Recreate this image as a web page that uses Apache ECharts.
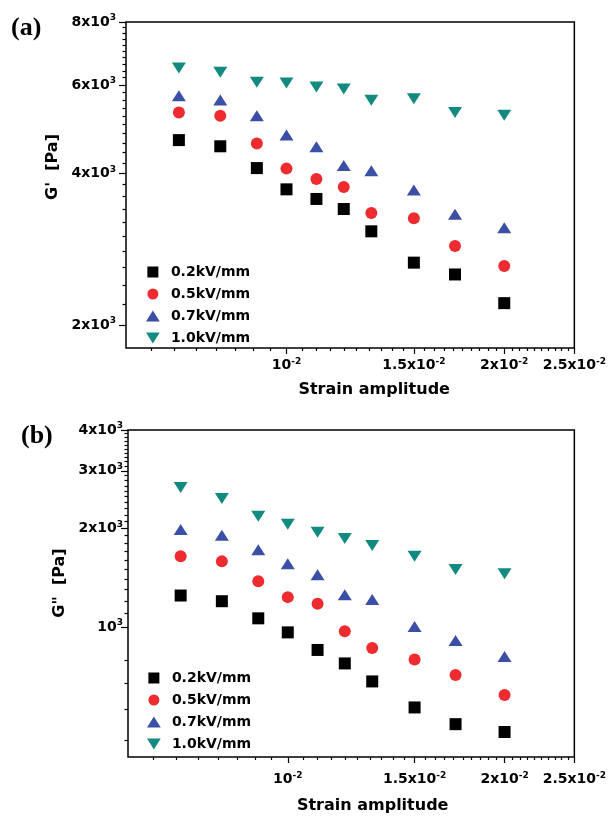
<!DOCTYPE html>
<html>
<head>
<meta charset="utf-8">
<title>G' and G'' vs strain amplitude</title>
<script src="https://cdn.jsdelivr.net/npm/echarts@6/dist/echarts.min.js"></script>
<style>
  html, body { margin: 0; padding: 0; background: #fff; }
  #chart { width: 609px; height: 816px; }
</style>
</head>
<body>
<div id="chart"></div>
<script>
// strain amplitude, same for both panels
const strain = [0.0071, 0.0081, 0.0091, 0.01, 0.011, 0.012, 0.0131, 0.015, 0.0171, 0.02];
const fieldNames = ['0.2kV/mm', '0.5kV/mm', '0.7kV/mm', '1.0kV/mm'];

// (a) storage modulus G' [Pa]
const storage02 = [4660, 4530, 4100, 3720, 3560, 3400, 3070, 2660, 2520, 2210];
const storage05 = [5290, 5210, 4590, 4090, 3900, 3760, 3340, 3260, 2870, 2620];
const storage07 = [5710, 5600, 5210, 4770, 4520, 4150, 4050, 3710, 3320, 3120];
const storage10 = [6480, 6360, 6070, 6050, 5940, 5890, 5590, 5630, 5290, 5220];

// (b) loss modulus G'' [Pa]
const loss02 = [1247, 1198, 1062, 962, 850, 773, 681, 567, 504, 477];
const loss05 = [1643, 1586, 1380, 1233, 1176, 969, 862, 795, 712, 619];
const loss07 = [1984, 1905, 1722, 1561, 1444, 1254, 1212, 1002, 908, 811];
const loss10 = [2669, 2469, 2180, 2060, 1946, 1862, 1775, 1643, 1498, 1454];

// tick labels
const xTicks = [0.01, 0.015, 0.02, 0.025];
const xTickLabels = ['10^-2', '1.5x10^-2', '2x10^-2', '2.5x10^-2'];
const yTicksA = [2000, 4000, 6000, 8000];
const yTickLabelsA = ['2x10^3', '4x10^3', '6x10^3', '8x10^3'];
const yTicksB = [1000, 2000, 3000, 4000];
const yTickLabelsB = ['10^3', '2x10^3', '3x10^3', '4x10^3'];

// minor ticks
const xMinor = [];
for (let k = 13; k < 50; k++) if (k % 10) xMinor.push(k * 0.0005);
const yMinorA = [];
for (let v = 2200; v < 8000; v += 200) if (v % 2000) yMinorA.push(v);
const yMinorB = [450, 560, 670, 790];
for (let v = 1100; v < 4000; v += 100) if (v % 1000) yMinorB.push(v);

const lg = Math.log10;
const colors = ['#000000', '#ee2b2f', '#3a4fa5', '#138a80'];
const square = 'path://M0,0H10V10H0Z';
const upTri = 'path://M5,0L10,8L0,8Z';
const downTri = 'path://M0,0L10,0L5,8Z';
const symbols = ['rect', 'circle', upTri, downTri];
const legendIcons = [square, 'circle', upTri, downTri];
const symbolSizes = [12, 12, [14, 11], [14, 11]];

const font = 'DejaVu Sans';
const rich = {
  m: {fontFamily: font, fontWeight: 'bold', fontSize: 14, color: '#000', lineHeight: 17},
  s: {fontFamily: font, fontWeight: 'bold', fontSize: 9, color: '#000', verticalAlign: 'top'}
};
function richLabel(s) {
  const p = s.split('^');
  return '{m|' + p[0] + '}{s|' + p[1] + '}';
}
function labelFor(ticks, labels) {
  return v => {
    const i = ticks.findIndex(t => Math.abs(lg(t) - v) < 1e-6);
    return i < 0 ? '' : richLabel(labels[i]);
  };
}

const panels = [
  {
    grid: {left: 126, top: 22, width: 453, height: 326},
    yMin: 1800, yMax: 8000, yTicks: yTicksA, yLabels: yTickLabelsA, yMinor: yMinorA,
    data: [storage02, storage05, storage07, storage10], yName: "G'  [Pa]",
    yNameGap: 62, yNamePad: 36, yLabelMargin: 10, xLabelMargin: 9, xNameGap: 34, xNamePad: 48,
    legendLeft: 146, legendTop: 265
  },
  {
    grid: {left: 128, top: 430, width: 451, height: 327},
    yMin: 400, yMax: 4000, yTicks: yTicksB, yLabels: yTickLabelsB, yMinor: yMinorB,
    data: [loss02, loss05, loss07, loss10], yName: 'G"  [Pa]',
    yNameGap: 53, yNamePad: 21, yLabelMargin: 5, xLabelMargin: 14, xNameGap: 41, xNamePad: 43,
    legendLeft: 147, legendTop: 671
  }
];

const xMin = 0.006, xMax = 0.025;
const tickLine = {color: '#000', width: 1.2};
const nameStyle = {fontFamily: font, fontWeight: 'bold', fontSize: 16, color: '#000'};

const grids = [], xAxes = [], yAxes = [], series = [], legends = [];

panels.forEach((p, i) => {
  grids.push(Object.assign({show: true, borderColor: '#000', borderWidth: 1.5, backgroundColor: '#fff'}, p.grid));
  const base = i * 3;

  // log axes that carry the data
  xAxes.push({
    type: 'log', logBase: 10, gridIndex: i, position: 'bottom', min: xMin, max: xMax,
    axisLine: {show: false}, axisTick: {show: false}, axisLabel: {show: false}, splitLine: {show: false}
  });
  // major ticks and labels, placed in log10 space
  xAxes.push({
    type: 'value', gridIndex: i, position: 'bottom', min: lg(xMin), max: lg(xMax),
    axisLine: {show: false}, splitLine: {show: false},
    axisTick: {show: true, length: 6, customValues: xTicks.map(lg), lineStyle: tickLine},
    axisLabel: {customValues: xTicks.map(lg), formatter: labelFor(xTicks, xTickLabels), rich: rich, margin: p.xLabelMargin},
    name: 'Strain amplitude', nameLocation: 'middle', nameGap: p.xNameGap,
    nameTextStyle: Object.assign({padding: [0, 0, 0, p.xNamePad]}, nameStyle)
  });
  // minor ticks
  xAxes.push({
    type: 'value', gridIndex: i, position: 'bottom', min: lg(xMin), max: lg(xMax),
    axisLine: {show: false}, splitLine: {show: false}, axisLabel: {show: false},
    axisTick: {show: true, length: 3, customValues: xMinor.map(lg), lineStyle: tickLine}
  });

  yAxes.push({
    type: 'log', logBase: 10, gridIndex: i, position: 'left', min: p.yMin, max: p.yMax,
    axisLine: {show: false}, axisTick: {show: false}, axisLabel: {show: false}, splitLine: {show: false}
  });
  yAxes.push({
    type: 'value', gridIndex: i, position: 'left', min: lg(p.yMin), max: lg(p.yMax),
    axisLine: {show: false}, splitLine: {show: false},
    axisTick: {show: true, length: 7, customValues: p.yTicks.map(lg), lineStyle: tickLine},
    axisLabel: {customValues: p.yTicks.map(lg), formatter: labelFor(p.yTicks, p.yLabels), rich: rich, margin: p.yLabelMargin},
    name: p.yName, nameLocation: 'middle', nameGap: p.yNameGap,
    nameTextStyle: Object.assign({padding: [0, 0, 0, p.yNamePad]}, nameStyle)
  });
  yAxes.push({
    type: 'value', gridIndex: i, position: 'left', min: lg(p.yMin), max: lg(p.yMax),
    axisLine: {show: false}, splitLine: {show: false}, axisLabel: {show: false},
    axisTick: {show: true, length: 3.5, customValues: p.yMinor.map(lg), lineStyle: tickLine}
  });

  p.data.forEach((vals, j) => {
    series.push({
      name: fieldNames[j],
      type: 'scatter',
      xAxisIndex: base, yAxisIndex: base,
      symbol: symbols[j], symbolSize: symbolSizes[j],
      itemStyle: {color: colors[j], opacity: 1},
      data: strain.map((x, k) => [x, vals[k]])
    });
  });

  legends.push({
    orient: 'vertical', left: p.legendLeft, top: p.legendTop, padding: 0,
    itemWidth: 26, itemHeight: 11, itemGap: 8, symbolKeepAspect: true,
    data: fieldNames.map((n, j) => ({name: n, icon: legendIcons[j]})),
    textStyle: {fontFamily: font, fontWeight: 'bold', fontSize: 14, color: '#000'}
  });
});

const chart = echarts.init(document.getElementById('chart'));
chart.setOption({
  animation: false,
  backgroundColor: '#fff',
  grid: grids,
  xAxis: xAxes,
  yAxis: yAxes,
  legend: legends,
  series: series,
  graphic: [
    {type: 'text', left: 11, top: 15, style: {text: '(a)', font: 'bold 26px "Liberation Serif"', fill: '#000'}},
    {type: 'text', left: 21, top: 423, style: {text: '(b)', font: 'bold 26px "Liberation Serif"', fill: '#000'}}
  ]
});
</script>
</body>
</html>
